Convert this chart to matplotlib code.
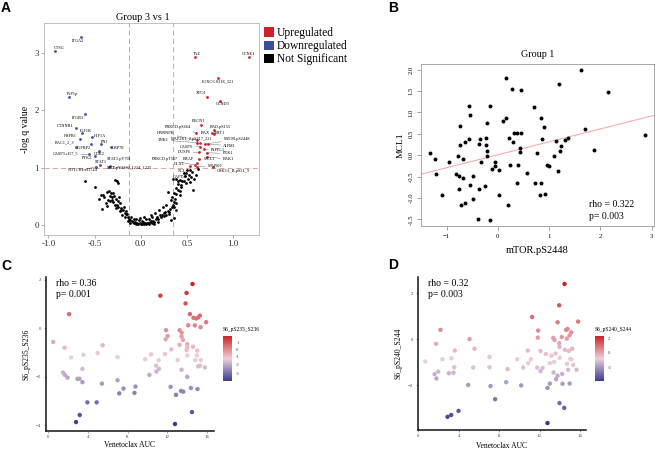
import numpy as np
import matplotlib
matplotlib.use("Agg")
import matplotlib.pyplot as plt
from matplotlib.colors import LinearSegmentedColormap, TwoSlopeNorm
from matplotlib.patches import Patch

plt.rcParams.update({
    "font.family": "serif",
    "font.serif": ["Liberation Serif", "DejaVu Serif"],
    "axes.linewidth": 0.6,
})

W, H = 655, 449
RED = "#cc2229"
BLUE = "#3a4fa0"

# ---------------- Panel A: volcano, group 3 vs 1 ----------------
down_names = ["ITGA2", "CTSG", "TAP1p", "ITGB3", "CTNNB1", "IGF1R", "HSPB1", "HIF1A",
              "RAC1_2_3", "PNI", "IGFBP2", "CDK2", "GRP78", "CASP3.cl17_5", "PTK2",
              "STAT1", "STAT1.pY701", "NOTCH1.cl1744", "MET.pY1230_1234_1235"]
down_fc = [-0.647, -0.928, -0.777, -0.604, -0.701, -0.632, -0.658, -0.524,
           -0.701, -0.434, -0.542, -0.452, -0.323, -0.560, -0.495,
           -0.441, -0.333, -0.485, -0.344]
down_q = [3.27, 3.035, 2.235, 1.927, 1.683, 1.596, 1.503, 1.538,
          1.364, 1.405, 1.410, 1.288, 1.364, 1.230, 1.207,
          1.045, 1.033, 1.016, 1.016]

up_names = ["TAZ", "CCNE1", "FOXO3.S318_321", "XPO1", "CCND3", "BECN1", "PRKCD.pS664",
            "BAD.pS155", "BAX", "SIRT1", "HNRNPK", "TNK1", "MAP2K1_2.pS217_221",
            "MTOR.pS2448", "AIFM1", "CASP9", "INPPL1", "PDK1", "DUSP6", "BAK1", "MCL1",
            "BRAF", "PRKCD.pT507", "MAPK9", "DLX1", "GSK3A_B.pS21_9"]
up_fc = [0.586, 1.173, 0.834, 0.715, 0.863, 0.650, 0.596,
         0.791, 0.770, 0.798, 0.604, 0.611, 0.640,
         0.694, 0.730, 0.640, 0.683, 0.712, 0.632, 0.712, 0.632,
         0.604, 0.586, 0.611, 0.532, 0.784]
up_q = [2.93, 2.925, 2.565, 2.234, 2.159, 1.735, 1.608,
        1.660, 1.602, 1.579, 1.480, 1.434, 1.434,
        1.410, 1.410, 1.364, 1.317, 1.259, 1.265, 1.190, 1.143,
        1.085, 1.045, 1.016, 1.033, 1.010]

ns_names = ["NCL", "GAPDH"]
ns_lab_fc = [0.532, 0.495]
ns_lab_q = [0.958, 0.900]

ns_fc = [-0.605, -0.277, -0.256, -0.241, -0.45, -0.42, -0.36, -0.342, -0.32, -0.299,
         -0.335, -0.314, -0.288, -0.27, -0.357, -0.328, -0.299, -0.249, -0.227, -0.277,
         -0.241, -0.213, -0.191, -0.17, -0.155, -0.14, -0.17, -0.126, -0.112, -0.097,
         -0.083, -0.133, -0.119, -0.068, -0.054, -0.04, -0.025, -0.011, 0.004, 0.018,
         0.032, 0.047, 0.061, 0.076, 0.09, 0.105, 0.119, 0.133, 0.148, 0.162,
         -0.018, 0.018, 0.054, 0.09, 0.126, 0.177, 0.191, 0.205, 0.22, 0.234,
         0.249, 0.263, 0.277, 0.292, 0.306, 0.314, 0.335, 0.35, 0.364, 0.357,
         0.371, 0.342, 0.357, 0.386, 0.378, 0.328, 0.386, 0.407, 0.429, 0.35,
         0.378, 0.40, 0.422, 0.443, 0.465, 0.407, 0.436, 0.486, 0.53, 0.544,
         0.515, 0.566, 0.30, 0.27, 0.241, 0.198, 0.155, 0.112, 0.04, -0.004,
         -0.047, -0.076, -0.104, -0.155, -0.184, -0.393, -0.407, -0.378, -0.27, -0.22,
         -0.198, -0.234, 0.55, 0.60, 0.50, 0.62, 0.47, 0.02, 0.07, 0.11,
         -0.50, -0.43, -0.31, -0.26, -0.21, -0.15, 0.25, 0.31, 0.38, 0.44,
         0.48, 0.58, 0.36, 0.33, -0.06, 0.14, 0.19, 0.42, 0.52, -0.37]
ns_q = [0.77, 0.78, 0.76, 0.73, 0.45, 0.28, 0.58, 0.60, 0.56, 0.55,
        0.505, 0.48, 0.505, 0.46, 0.435, 0.41, 0.40, 0.42, 0.38, 0.355,
        0.32, 0.30, 0.26, 0.215, 0.19, 0.145, 0.135, 0.11, 0.087, 0.064,
        0.052, 0.064, 0.029, 0.029, 0.017, 0.04, 0.017, 0.029, 0.012, 0.023,
        0.012, 0.035, 0.017, 0.04, 0.017, 0.052, 0.029, 0.075, 0.052, 0.099,
        0.087, 0.075, 0.099, 0.11, 0.134, 0.145, 0.11, 0.18, 0.134, 0.168,
        0.203, 0.226, 0.18, 0.25, 0.19, 0.285, 0.31, 0.343, 0.31, 0.40,
        0.447, 0.48, 0.563, 0.54, 0.377, 0.435, 0.645, 0.61, 0.587, 0.80,
        0.80, 0.76, 0.78, 0.76, 0.77, 0.714, 0.69, 0.74, 0.75, 0.83,
        0.81, 0.61, 0.575, 0.354, 0.31, 0.26, 0.215, 0.168, 0.145, 0.122,
        0.099, 0.11, 0.134, 0.25, 0.31, 0.48, 0.53, 0.39, 0.296, 0.24,
        0.18, 0.48, 0.92, 0.88, 0.95, 0.97, 0.90, 0.06, 0.03, 0.07,
        0.66, 0.52, 0.44, 0.35, 0.27, 0.20, 0.15, 0.23, 0.26, 0.66,
        0.85, 0.80, 0.12, 0.08, 0.06, 0.02, 0.05, 0.52, 0.88, 0.34]

# label offsets (points) for the volcano labels
down_off = [(-2, -2.6), (3, 2.2), (2.4, 1.9), (-4.8, -2.4), (-7.4, 1.9), (2.6, 1.9),
            (-6.7, 1.9), (5.5, 0.5), (-8.4, 3.1), (2.4, 1.4), (-4.5, -2.6), (0, -2.4),
            (5.3, -1), (-17, 0.7), (-6, -1.4), (0.5, 1.9), (6.7, 5), (-9.8, -2.4),
            (14.4, -0.9)]
up_off = [(1.2, 2.4), (0, 2.6), (0, -2.4), (-4.3, 2.6), (1.4, -2.4), (-1.7, 3.1),
          (-12.7, 4.1), (4.8, 1.9), (-4.6, 0.2), (3.8, 1.2), (-22.3, 4.8), (-24.5, 1.9),
          (-6, 2.4), (23.3, 3.4), (15.6, -1.2), (-9.6, 0), (10.3, -0.5), (15.6, -0.5),
          (-10.8, 0), (15.8, -1.9), (7.2, 0.5), (-5.8, 2.6), (-21.6, 4.3), (12.7, 0.7),
          (-7.7, 1), (14.4, -2.6)]
ns_off = [(-5.3, -0.5), (-4.8, -2.4)]

# ---------------- Panel B: MCL1 vs mTOR.pS2448, group 1 ----------------
mtor = [0.157, 0.275, 0.457, -0.569, -0.144, -0.54, 0.706, -0.203, -0.732, 0.111,
        0.157, 0.307, 0.379, 0.457, 0.209, 0.294, -0.569, -0.634, -0.346, -0.222,
        -0.373, -0.222, -0.732, 0.425, -0.209, 0.425, -1.32, 0.758, -0.784, -0.216,
        -1.216, -0.686, -0.327, -0.954, -0.046, -0.059, -0.118, 0.02, 0.235, 0.392,
        0.569, -1.21, -0.81, -0.75, -0.673, -0.477, -0.549, -0.255, -0.758, -0.366,
        0.379, 0.725, -1.085, 0.026, 0.817, -0.477, -0.647, -0.712, 0.196, -0.386,
        -0.157, 1.623, 1.188, 2.156, 0.85, 0.909, 1.695, 0.864, 1.364, 1.318,
        1.143, 1.227, 1.208, 2.87, 1.877, 1.104, 0.96, 1.0, 1.18, 0.85, 0.92]
mcl1 = [1.81, 1.55, 1.53, 1.16, 1.16, 0.93, 1.125, 0.75, 0.68, 0.80,
        0.88, 0.52, 0.52, 0.52, 0.41, 0.32, 0.37, 0.31, 0.38, 0.40,
        0.27, 0.24, 0.23, 0.18, 0.09, 0.08, 0.06, 0.055, -0.01, -0.02,
        -0.09, -0.08, -0.16, -0.17, -0.16, -0.25, -0.32, -0.34, -0.23, -0.23,
        -0.42, -0.44, -0.44, -0.49, -0.53, -0.49, -0.70, -0.73, -0.79, -0.80,
        -0.66, -0.66, -0.92, -0.93, -0.92, -1.03, -1.12, -1.17, -1.16, -1.48,
        -1.52, 1.99, 1.66, 1.48, 0.875, 0.67, 0.62, 0.37, 0.41, 0.35,
        0.33, 0.21, 0.10, 0.48, 0.125, -0.02, -0.24, -0.26, -0.37, -0.64, -0.91]

# ---------------- Panel C: S6_pS235_S236 vs Venetoclax AUC ----------------
auc_c = [14.53, 11.3, 13.93, 13.83, 2.13, 14.27, 14.63, 14.9, 15.1, 15.27,
         14.1, 14.77, 15.33, 15.9, 11.87, 13.23, 13.43, 12.03, 11.83, 13.43,
         13.57, 0.53, 13.23, 12.4, 14.0, 14.57, 13.93, 15.0, 1.67, 5.5,
         3.57, 5.0, 2.33, 7.0, 9.77, 10.37, 11.77, 11.13, 13.03, 14.0,
         14.8, 15.37, 14.97, 10.87, 11.17, 10.9, 13.43, 15.27, 15.1, 15.77,
         3.47, 1.53, 1.7, 1.97, 2.97, 3.17, 3.47, 14.0, 5.43, 10.2,
         7.0, 7.6, 7.17, 8.8, 8.7, 12.33, 12.87, 13.37, 13.6, 14.37,
         15.03, 3.97, 4.9, 3.2, 2.83, 12.77, 14.47, 14.0]
s6_235 = [1.82, 1.34, 1.45, 1.02, 0.58, 0.58, 0.43, 0.40, 0.44, 0.52,
          0.12, 0.12, 0.04, 0.25, -0.08, -0.08, -0.18, -0.32, -0.455, -0.34,
          -0.48, -0.565, -0.68, -0.87, -0.65, -0.76, -0.90, -0.92, -0.80, -0.70,
          -1.09, -1.02, -1.20, -1.19, -1.28, -1.08, -1.06, -1.31, -1.31, -1.12,
          -1.31, -1.31, -1.12, -1.54, -1.67, -1.78, -1.71, -1.54, -1.57, -1.61,
          -1.67, -1.82, -1.92, -2.03, -2.08, -2.08, -2.22, -2.0, -2.28, -1.92,
          -2.14, -2.48, -2.68, -2.4, -2.66, -2.41, -2.74, -2.58, -2.61, -2.46,
          -2.5, -3.05, -3.05, -3.57, -3.86, -3.94, -3.45, -0.79]

# ---------------- Panel D: S6_pS240_S244 vs Venetoclax AUC ----------------
auc_d = [14.48, 13.95, 11.27, 13.79, 15.83, 2.18, 11.87, 11.83, 14.64, 14.78,
         15.14, 14.21, 14.7, 14.98, 13.36, 13.49, 13.95, 13.98, 5.06, 1.75,
         5.55, 3.6, 10.84, 12.1, 14.51, 15.24, 14.91, 13.59, 12.63, 0.66,
         2.38, 3.27, 7.04, 9.79, 11.14, 13.19, 13.98, 15.04, 15.17, 13.02,
         13.45, 14.74, 15.34, 3.54, 5.42, 7.04, 10.38, 11.77, 12.1, 12.3,
         10.88, 13.39, 13.79, 14.25, 14.84, 15.67, 1.59, 1.78, 3.01, 3.47,
         1.95, 8.83, 4.93, 7.14, 8.69, 10.18, 12.79, 13.02, 13.65, 14.28,
         14.98, 7.6, 13.98, 14.45, 3.97, 3.24, 2.88, 12.79]
s6_240 = [2.41, 1.48, 0.97, 0.74, 0.77, 0.41, 0.38, 0.07, 0.41, 0.45,
          0.30, 0.10, 0.03, 0.17, 0.06, -0.03, -0.17, -0.33, 0.01, -0.20,
          -0.41, -0.49, -0.49, -0.51, -0.46, -0.41, -0.51, -0.62, -0.64, -0.97,
          -0.87, -0.83, -0.77, -0.87, -0.87, -0.72, -0.81, -0.86, -0.87, -1.04,
          -0.99, -1.07, -1.12, -1.22, -1.23, -1.22, -1.23, -1.23, -1.39, -1.25,
          -1.04, -1.45, -1.59, -1.51, -1.33, -1.33, -1.52, -1.71, -1.48, -1.46,
          -1.41, -1.30, -1.99, -2.04, -1.87, -2.01, -2.12, -1.93, -1.74, -1.94,
          -1.93, -2.61, -2.78, -2.99, -3.12, -3.30, -3.38, -3.65]


def fax(x0, y0, x1, y1):
    """axes from pixel box (left, top, right, bottom)"""
    return fig.add_axes([x0 / W, 1 - y1 / H, (x1 - x0) / W, (y1 - y0) / H])


fig = plt.figure(figsize=(W / 100, H / 100), dpi=100)

# ---- A ----
axA = fax(44, 23, 259, 235)
axA.scatter(ns_fc, ns_q, s=4, c="black", lw=0, zorder=2)
axA.scatter(ns_lab_fc, ns_lab_q, s=4, c="black", lw=0, zorder=2)
axA.scatter(down_fc, down_q, s=4, c=BLUE, lw=0, zorder=3)
axA.scatter(up_fc, up_q, s=4, c=RED, lw=0, zorder=3)
for names, xs, ys, offs in [(down_names, down_fc, down_q, down_off),
                            (up_names, up_fc, up_q, up_off),
                            (ns_names, ns_lab_fc, ns_lab_q, ns_off)]:
    for nm, x, y, (dx, dy) in zip(names, xs, ys, offs):
        arrow = None
        if abs(dx) > 9:
            arrow = dict(arrowstyle="-", lw=0.3, color="0.35", shrinkA=0, shrinkB=0)
        axA.annotate(nm, (x, y), xytext=(dx, dy), textcoords="offset points",
                     fontsize=3.1, ha="center", va="center", arrowprops=arrow)
axA.axvline(-0.13, color="#8f9fd6", lw=0.6, ls=(0, (6, 4)), zorder=1)
axA.axvline(0.35, color="#f08a8a", lw=0.6, ls=(0, (6, 4)), zorder=1)
axA.axhline(1, color="#f08a8a", lw=0.6, ls=(0, (6, 4)), zorder=1)
axA.set_xlim(-1.047, 1.28)
axA.set_ylim(-0.174, 3.52)
axA.set_xticks([-1.0, -0.5, 0.0, 0.5, 1.0])
axA.set_xticklabels(["-1.0", "-0.5", "0.0", "0.5", "1.0"])
axA.set_yticks([0, 1, 2, 3])
for s in axA.spines.values():
    s.set_color("#b5b5b5")
axA.tick_params(labelsize=6.5, length=2, width=0.5, color="#888888", pad=1.5,
                labelcolor="#333333")
axA.set_ylabel("-log q value", fontsize=7, labelpad=3)
fig.text(143 / W, 1 - 18 / H, "Group 3 vs 1", fontsize=7.5, ha="center", va="center")
axA.legend(handles=[Patch(facecolor=RED, edgecolor="none"),
                    Patch(facecolor=BLUE, edgecolor="none"),
                    Patch(facecolor="black", edgecolor="none")],
           labels=["Upregulated", "Downregulated", "Not Significant"],
           loc="upper left", bbox_to_anchor=(264 / W, 1 - 27 / H),
           bbox_transform=fig.transFigure, frameon=False, fontsize=8.3,
           borderpad=0, borderaxespad=0, handlelength=0.85, handleheight=0.85,
           handletextpad=0.25, labelspacing=0.1)

# ---- B ----
axB = fax(421.5, 64, 653.6, 226.3)
axB.scatter(mtor, mcl1, s=8, c="black", lw=0, zorder=3)
axB.margins(0.04)
slope, icpt = np.polyfit(mtor, mcl1, 1)
axB.axline((0, icpt), slope=slope, color="#f2a3a3", lw=0.7, zorder=2)
axB.set_xticks([-1, 0, 1, 2, 3])
axB.set_yticks([-1.5, -1.0, -0.5, 0.0, 0.5, 1.0, 1.5, 2.0])
axB.set_yticklabels(["-1.5", "-1.0", "-0.5", "0.0", "0.5", "1.0", "1.5", "2.0"],
                    rotation=90, va="center")
for s in axB.spines.values():
    s.set_color("#999999")
axB.tick_params(labelsize=4.8, length=3, width=0.5, color="#777777", pad=2.5)
axB.set_xlabel("mTOR.pS2448", fontsize=7.5, labelpad=5)
axB.set_ylabel("MCL1", fontsize=6.8, labelpad=3)
axB.set_title("Group 1", fontsize=7.3, pad=5)
axB.text(0.72, 0.135, "rho = 0.322", transform=axB.transAxes, fontsize=7, va="center")
axB.text(0.72, 0.06, "p= 0.003", transform=axB.transAxes, fontsize=7, va="center")

# ---- C and D ----
cmap = LinearSegmentedColormap.from_list("s6", ["#3b3b96", "#eed0da", "#c92424"])


def s6_panel(box, cbox, xs, ys, yname, yticks, cticks, rho, pval, xlabpad):
    ax = fax(*box)
    norm = TwoSlopeNorm(vmin=min(ys), vcenter=float(np.mean(ys)), vmax=max(ys))
    sc = ax.scatter(xs, ys, c=ys, cmap=cmap, norm=norm, s=10, lw=0)
    ax.margins(0.05)
    ax.spines[["top", "right"]].set_visible(False)
    ax.spines[["left", "bottom"]].set_linewidth(1.1)
    ax.spines[["left", "bottom"]].set_color("#111111")
    ax.set_xticks([0, 4, 8, 12, 16])
    ax.set_yticks(yticks)
    ax.tick_params(labelsize=3.5, length=1.5, width=0.4, color="#555555",
                   labelcolor="#444444", pad=1.5)
    ax.set_xlabel("Venetoclax AUC", fontsize=5.5, labelpad=xlabpad)
    ax.set_ylabel(yname, fontsize=5.5, labelpad=4)
    ax.text(0.06, 0.96, rho, transform=ax.transAxes, fontsize=7, va="center")
    ax.text(0.06, 0.885, pval, transform=ax.transAxes, fontsize=7, va="center")
    cax = fax(*cbox)
    cb = fig.colorbar(sc, cax=cax)
    cb.outline.set_visible(False)
    cb.set_ticks(cticks)
    cb.set_ticklabels([str(t) for t in cticks])
    cax.tick_params(labelsize=3.3, length=1.5, width=0.4, color="white", pad=1.5,
                    labelcolor="#444444")
    fig.text(cbox[0] / W, 1 - (cbox[1] - 6) / H, yname, fontsize=4, va="center",
             ha="left")
    return ax


s6_panel((45.5, 277, 213.8, 431), (223, 336, 232, 381), auc_c, s6_235,
         "S6_pS235_S236", [-4, -2, 0, 2], [1, 0, -1, -2, -3],
         "rho = 0.36", "p= 0.001", 1.5)
s6_panel((417.5, 277, 585.8, 430), (595, 336, 604, 381), auc_d, s6_240,
         "S6_pS240_S244", [-2, 0, 2], [2, 0, -2], "rho = 0.32", "p= 0.003", 2.5)

# panel letters
for lab, x, y in [("A", 1, 8), ("B", 388, 8), ("C", 1, 266), ("D", 388, 265)]:
    fig.text(x / W, 1 - y / H, lab, fontsize=10, fontweight="bold",
             family="Liberation Sans", va="center", ha="left")

fig.savefig("out.png", dpi=100)
